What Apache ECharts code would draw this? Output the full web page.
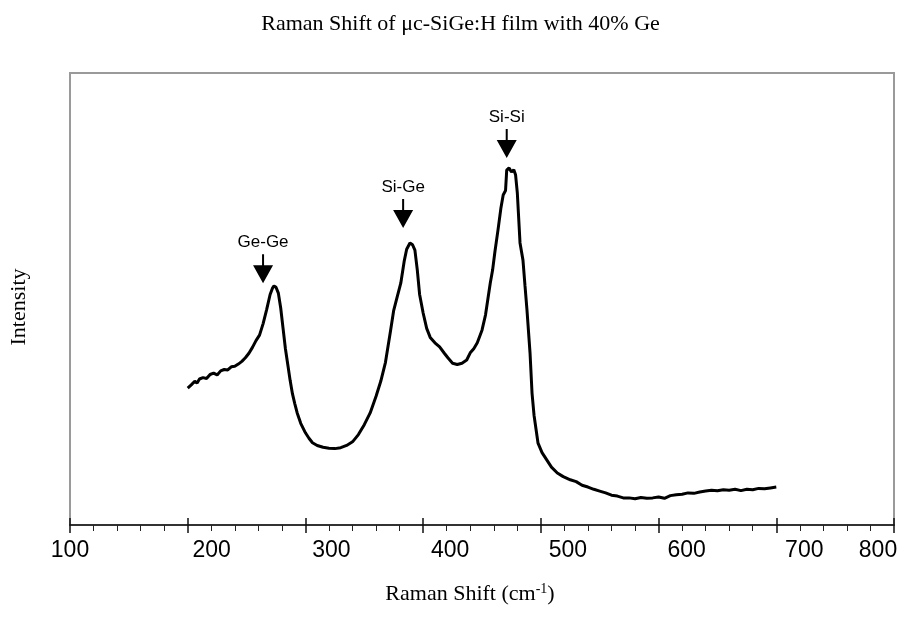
<!DOCTYPE html>
<html>
<head>
<meta charset="utf-8">
<title>Raman Shift of μc-SiGe:H film with 40% Ge</title>
<script src="https://cdn.jsdelivr.net/npm/echarts@6/dist/echarts.min.js"></script>
<style>
  html, body { margin: 0; padding: 0; background: #fff; }
  #chart { width: 921px; height: 635px; }
</style>
</head>
<body>
<div id="chart"></div>
<script>
// Raman spectrum (shift in cm^-1, intensity in arbitrary units)
const ramanShift = [
  200, 203, 206, 208, 210, 213, 216, 219, 222, 225, 228, 231, 234, 237, 240, 243, 246, 249,
  252, 255, 258, 261, 264, 267, 270, 272, 273.3, 275, 277, 279, 281, 283, 285, 287, 289, 291,
  293, 296, 300, 303, 306, 310, 315, 320, 325, 330, 335, 340, 345, 350, 355, 360, 364, 368,
  372, 375, 378, 381, 384, 386, 388.8, 391, 393, 395, 397, 400, 403, 406, 410, 414, 418, 421,
  425, 429, 433, 437, 440, 443, 446, 450, 453, 455, 457, 459, 461, 463.6, 466, 468, 470, 471,
  473, 475, 477, 478.5, 480, 482.3, 484.8, 486.5, 488.2, 490.8, 492.5, 494.2, 497.6, 501, 505,
  509, 514, 519, 525, 530, 535, 540, 545, 550, 555, 560, 565, 570, 575, 580, 585, 590, 595,
  600, 605, 610, 615, 620, 625, 630, 635, 640, 645, 650, 655, 660, 665, 670, 675, 680, 685,
  690, 695, 700
];
const intensity = [
  30.3, 31.0, 31.8, 31.4, 32.3, 32.6, 32.4, 33.3, 33.6, 33.2, 34.1, 34.4, 34.3, 35.0, 35.1, 35.6, 36.2, 37.0,
  38.0, 39.3, 40.8, 42.0, 44.5, 47.6, 51.0, 52.4, 52.9, 52.6, 51.3, 48.0, 43.5, 39.0, 35.5, 32.0, 29.0, 26.8,
  24.8, 22.5, 20.4, 19.2, 18.2, 17.6, 17.2, 17.0, 16.9, 17.1, 17.6, 18.4, 20.0, 22.2, 24.8, 28.5, 31.8, 36.0,
  42.5, 47.5, 50.5, 53.5, 58.5, 61.0, 62.4, 62.0, 60.8, 56.5, 51.0, 46.9, 43.5, 41.5, 40.3, 39.4, 38.0, 37.0,
  35.8, 35.5, 35.8, 36.5, 38.1, 39.0, 40.3, 43.1, 46.5, 50.0, 53.5, 56.4, 60.5, 65.3, 70.0, 73.0, 74.0, 78.5,
  79.0, 78.1, 78.6, 77.5, 73.5, 62.4, 58.6, 53.0, 47.6, 38.1, 29.2, 24.3, 18.1, 16.0, 14.4,
  12.8, 11.5, 10.7, 10.0, 9.6, 8.8, 8.4, 7.9, 7.5, 7.1, 6.6, 6.4, 6.0, 6.0, 5.8, 6.1, 5.9, 6.0,
  6.2, 5.9, 6.5, 6.7, 6.8, 7.1, 7.0, 7.3, 7.5, 7.7, 7.6, 7.8, 7.7, 7.9, 7.6, 7.9, 7.8, 8.1,
  8.0, 8.2, 8.4
];

// Peak assignments marked with arrows
const peakNames = ['Ge-Ge', 'Si-Ge', 'Si-Si'];
const peakShift = [264, 383, 471];
const peakArrowTip = [53.5, 65.7, 81.2];

// X axis tick labels
const xTicks = [100, 200, 300, 400, 500, 600, 700, 800];

const chart = echarts.init(document.getElementById('chart'));

const arrowPath = 'path://M9,0 L11,0 L11,11 L20,11 L10,29 L0,11 L9,11 Z';

// small horizontal nudges of the tick labels (in px)
const labelShift = { 100: 0, 200: 24, 300: 26, 400: 27, 500: 27, 600: 28, 700: 28, 800: -16 };
const tickRich = {};
xTicks.forEach(function (t) {
  const s = labelShift[t] || 0;
  tickRich['t' + t] = {
    fontFamily: 'Liberation Sans, Arial, sans-serif',
    fontSize: 23,
    color: '#000',
    padding: s >= 0 ? [0, 0, 0, 2 * s] : [0, -2 * s, 0, 0]
  };
});

const serif = 'Liberation Serif, Times New Roman, serif';

const option = {
  animation: false,
  backgroundColor: '#fff',
  title: {
    text: 'Raman Shift of μc-SiGe:H film with 40% Ge',
    left: 'center',
    top: 8,
    textStyle: {
      fontFamily: serif,
      fontSize: 22,
      fontWeight: 'normal',
      color: '#000'
    }
  },
  grid: {
    left: 69,
    right: 27,
    top: 73,
    bottom: 110,
    show: true,
    borderColor: '#9a9a9a',
    borderWidth: 2
  },
  xAxis: [
    {
      type: 'value',
      min: 100,
      max: 800,
      interval: 100,
      name: 'Raman Shift (cm{sup|-1})',
      nameLocation: 'middle',
      nameGap: 57,
      nameTextStyle: {
        fontFamily: serif,
        fontSize: 22,
        color: '#000',
        padding: [0, 24, 0, 0],
        rich: {
          sup: {
            fontFamily: serif,
            fontSize: 14,
            verticalAlign: 'bottom',
            padding: [0, 0, 11, 0]
          }
        }
      },
      axisLine: { show: true, lineStyle: { color: '#111', width: 1.5 } },
      axisTick: { show: true, inside: false, length: 8, lineStyle: { color: '#111', width: 1.5 } },
      minorTick: { show: true, splitNumber: 5, length: 6, lineStyle: { color: '#222', width: 1 } },
      axisLabel: {
        margin: 14,
        formatter: function (v) { return '{t' + v + '|' + v + '}'; },
        rich: tickRich
      },
      splitLine: { show: false },
      minorSplitLine: { show: false }
    },
    {
      // upward half of the major ticks
      type: 'value',
      min: 100,
      max: 800,
      interval: 100,
      position: 'bottom',
      offset: 0,
      axisLine: { show: false },
      axisTick: { show: true, inside: true, length: 7, lineStyle: { color: '#111', width: 1.5 } },
      axisLabel: { show: false },
      splitLine: { show: false }
    }
  ],
  yAxis: {
    type: 'value',
    min: 0,
    max: 100,
    name: 'Intensity',
    nameLocation: 'middle',
    nameGap: 40,
    nameTextStyle: {
      fontFamily: serif,
      fontSize: 22,
      color: '#000',
      padding: [0, 16, 0, 0]
    },
    axisLine: { show: false },
    axisTick: { show: false },
    axisLabel: { show: false },
    splitLine: { show: false }
  },
  series: [
    {
      type: 'line',
      xAxisIndex: 0,
      data: ramanShift.map(function (x, i) { return [x, intensity[i]]; }),
      showSymbol: false,
      lineStyle: { color: '#000', width: 3 },
      markPoint: {
        symbol: arrowPath,
        symbolSize: [20, 29],
        symbolOffset: [0, '-50%'],
        itemStyle: { color: '#000' },
        label: {
          show: true,
          position: 'top',
          distance: 3,
          formatter: function (p) { return p.name; },
          fontFamily: 'Liberation Sans, Arial, sans-serif',
          fontSize: 17,
          color: '#000'
        },
        data: peakNames.map(function (n, i) {
          return { name: n, coord: [peakShift[i], peakArrowTip[i]] };
        })
      }
    }
  ]
};

chart.setOption(option);
</script>
</body>
</html>
